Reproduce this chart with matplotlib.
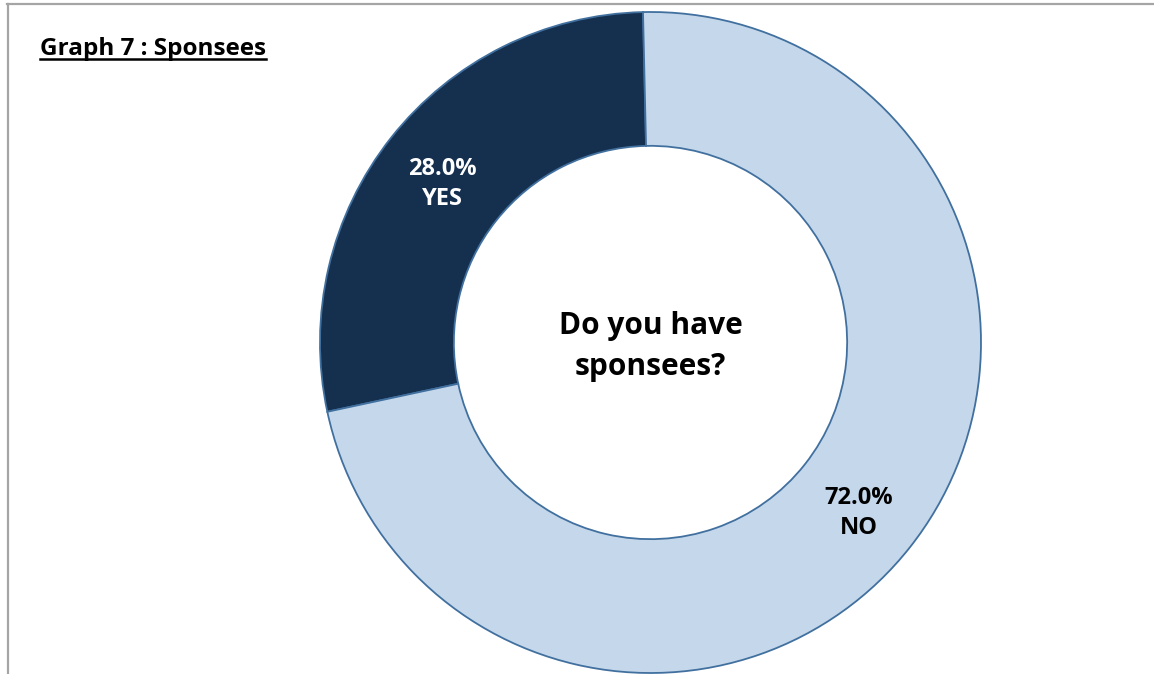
import matplotlib
matplotlib.use("Agg")
import matplotlib.pyplot as plt
from matplotlib.lines import Line2D
from matplotlib.transforms import offset_copy
import numpy as np

plt.rcParams['font.family'] = ['Open Sans', 'DejaVu Sans']

# sponsee survey answers
answers = ["YES", "NO"]
shares = [28.0, 72.0]
colors = ["#15304f", "#c5d8eb"]
text_colors = ["white", "black"]

W, H = 1154, 674
fig = plt.figure(figsize=(W / 100, H / 100), dpi=100)

# donut centred at (650.5, 342.5) px, outer radius 330.5 px
cx, cy, r = 650.5, 342.5, 330.5
ax = fig.add_axes([(cx - r) / W, (H - cy - r) / H, 2 * r / W, 2 * r / H])

start = 91.3
wedges, _ = ax.pie(shares, colors=colors, startangle=start, counterclock=True,
                   radius=1.0, wedgeprops=dict(width=0.405, edgecolor="#41709f", linewidth=1.3))
for w in wedges:
    w.set_clip_on(False)

# slice labels at mid-angle of each slice, nudged down a few pixels
lbl_tr = offset_copy(ax.transData, fig=fig, x=0, y=-6, units="dots")
theta = start
for ans, val, tc in zip(answers, shares, text_colors):
    mid = np.deg2rad(theta + val * 3.6 / 2)
    ax.text(0.803 * np.cos(mid), 0.803 * np.sin(mid), f"{val:.1f}%\n{ans}",
            ha="center", va="center", color=tc, fontsize=17, fontweight="bold",
            linespacing=1.3, transform=lbl_tr)
    theta += val * 3.6

ax.text(0, -0.012, "Do you have\nsponsees?", ha="center", va="center",
        fontsize=21.5, fontweight="bold", linespacing=1.5)

ax.set_xlim(-1, 1)
ax.set_ylim(-1, 1)
ax.set_aspect("equal")
ax.axis("off")

# title with underline
title = fig.text(40 / W, 1 - 55 / H, "Graph 7 : Sponsees", fontsize=17.5,
                 fontweight="bold", ha="left", va="baseline")
fig.canvas.draw()
bb = title.get_window_extent()
uy = 1 - 59 / H
fig.add_artist(Line2D([bb.x0 / W, bb.x1 / W], [uy, uy], color="black", lw=1.8))

# frame lines along top and left
gray = "#a5a5a5"
fig.add_artist(Line2D([7 / W, 1], [1 - 3.5 / H, 1 - 3.5 / H], color=gray, lw=1.6))
fig.add_artist(Line2D([7.5 / W, 7.5 / W], [0, 1 - 3.5 / H], color=gray, lw=1.6))

fig.savefig("out.png", dpi=100)
